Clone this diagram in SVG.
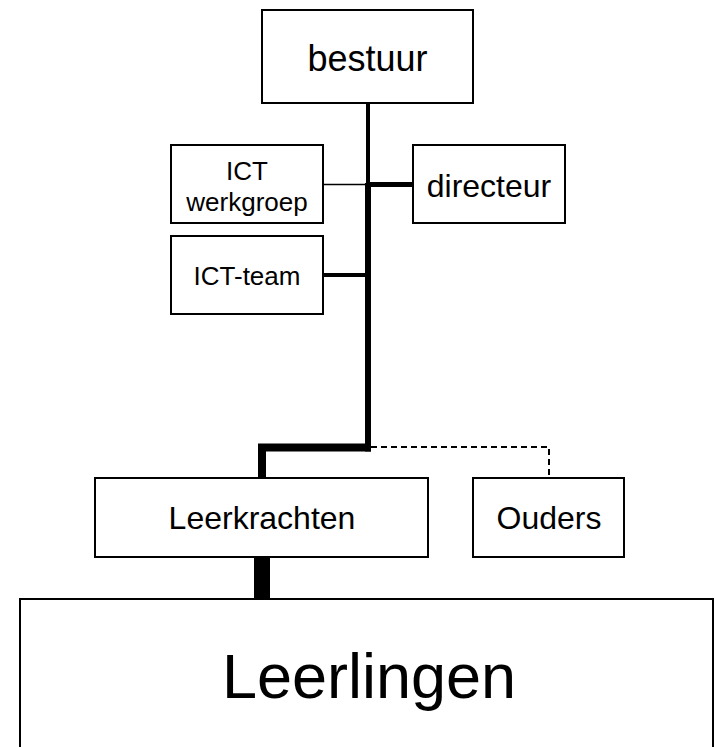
<svg xmlns="http://www.w3.org/2000/svg" width="715" height="747" viewBox="0 0 715 747">
<style>
.box{fill:#fff;stroke:#000;stroke-width:2}
.t{font-family:"Liberation Sans",Arial,sans-serif;fill:#000;text-anchor:middle}
.c{stroke:#000;fill:none}
</style>
<rect width="715" height="747" fill="#fff"/>
<g id="connectors">
<line class="c" x1="368" y1="103" x2="368" y2="185" stroke-width="4"/>
<line class="c" x1="368" y1="183" x2="368" y2="451.5" stroke-width="6"/>
<line class="c" x1="323" y1="184.5" x2="366" y2="184.5" stroke-width="1.5"/>
<line class="c" x1="370" y1="184.5" x2="413" y2="184.5" stroke-width="5"/>
<line class="c" x1="323" y1="275" x2="366" y2="275" stroke-width="4"/>
<path class="c" d="M371 447.5 H262 V478" stroke-width="8" stroke-linejoin="miter"/>
<path class="c" d="M371 447 H549 V478" stroke-width="2" stroke-dasharray="6,4"/>
<line class="c" x1="262" y1="557" x2="262" y2="599" stroke-width="16"/>
</g>
<g id="bestuur">
<rect class="box" x="262" y="10" width="211" height="93"/>
<text class="t" x="367.5" y="71" font-size="36">bestuur</text>
</g>
<g id="ict-werkgroep">
<rect class="box" x="171" y="145" width="152" height="78"/>
<text class="t" x="247" y="180" font-size="26">ICT</text>
<text class="t" x="247" y="211" font-size="26">werkgroep</text>
</g>
<g id="directeur">
<rect class="box" x="413" y="145" width="152" height="78"/>
<text class="t" x="489" y="197" font-size="32">directeur</text>
</g>
<g id="ict-team">
<rect class="box" x="171" y="236" width="152" height="78"/>
<text class="t" x="247" y="285" font-size="26">ICT-team</text>
</g>
<g id="leerkrachten">
<rect class="box" x="95" y="478" width="333" height="79"/>
<text class="t" x="262" y="529" font-size="32">Leerkrachten</text>
</g>
<g id="ouders">
<rect class="box" x="473" y="478" width="151" height="79"/>
<text class="t" x="549" y="529" font-size="32">Ouders</text>
</g>
<g id="leerlingen">
<rect class="box" x="20" y="599" width="693" height="170"/>
<text class="t" x="369" y="698" font-size="63">Leerlingen</text>
</g>
</svg>
